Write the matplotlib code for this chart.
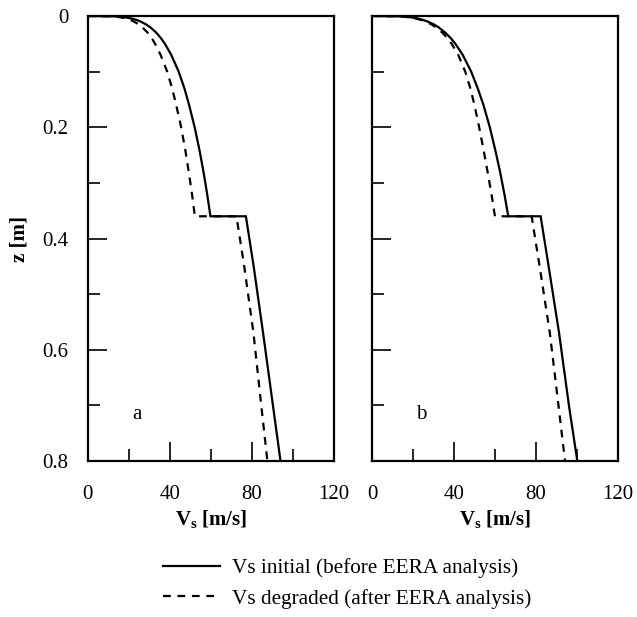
import matplotlib
matplotlib.use('Agg')
import matplotlib.pyplot as plt
from matplotlib.ticker import MultipleLocator
from matplotlib.lines import Line2D

plt.rcParams['font.family'] = 'Liberation Serif'
plt.rcParams['mathtext.fontset'] = 'custom'
plt.rcParams['mathtext.rm'] = 'Liberation Serif'
plt.rcParams['mathtext.bf'] = 'Liberation Serif:bold'
plt.rcParams['font.size'] = 15

# depth (m) - both profiles share the same depths, with a jump at 0.36 m
z = [0, 0.0005, 0.001, 0.002, 0.004, 0.007, 0.01, 0.015, 0.02, 0.03, 0.04,
     0.05, 0.07, 0.1, 0.13, 0.16, 0.2, 0.24, 0.28, 0.32, 0.36,
     0.36, 0.45, 0.57, 0.7, 0.8]

# panel a
vs_init_a = [0, 12.8, 15.0, 17.7, 20.8, 23.7, 25.8, 28.4, 30.4, 33.4, 35.7,
             37.6, 40.7, 44.3, 47.1, 49.4, 52.1, 54.4, 56.4, 58.2, 59.8,
             77.1, 80.9, 85.5, 90.3, 94.0]
vs_degr_a = [0, 11.2, 13.1, 15.5, 18.2, 20.7, 22.5, 24.8, 26.5, 29.2, 31.2,
             32.8, 35.5, 38.7, 41.1, 43.1, 45.5, 47.5, 49.2, 50.8, 52.2,
             72.5, 76.3, 80.8, 84.6, 87.6]

# panel b
vs_init_b = [0, 12.9, 15.4, 18.3, 21.7, 24.9, 27.3, 30.2, 32.4, 35.8, 38.5,
             40.7, 44.3, 48.4, 51.6, 54.4, 57.5, 60.1, 62.5, 64.6, 66.5,
             82.3, 86.2, 91.3, 96.1, 100.2]
vs_degr_b = [0, 12.5, 14.9, 17.7, 20.9, 24.0, 26.2, 29.0, 31.1, 34.4, 36.8,
             38.9, 42.1, 45.5, 48.0, 50.0, 52.3, 54.4, 56.4, 58.3, 60.0,
             77.9, 81.8, 86.8, 91.0, 94.2]

panels = [('a', vs_init_a, vs_degr_a), ('b', vs_init_b, vs_degr_b)]

fig = plt.figure(figsize=(6.37, 6.17), dpi=100)
positions = [[0.138, 0.2528, 0.386, 0.7212], [0.584, 0.2528, 0.386, 0.7212]]

for i, (tag, vs_i, vs_d) in enumerate(panels):
    ax = fig.add_axes(positions[i])
    ax.plot(vs_i, z, color='black', lw=1.6, solid_joinstyle='miter')
    ax.plot(vs_d, z, color='black', lw=1.6, dashes=(3.5, 3))
    ax.set_xlim(0, 120)
    ax.set_ylim(0.8, 0)
    ax.xaxis.set_major_locator(MultipleLocator(40))
    ax.xaxis.set_minor_locator(MultipleLocator(20))
    ax.yaxis.set_major_locator(MultipleLocator(0.2))
    ax.yaxis.set_minor_locator(MultipleLocator(0.1))
    ax.tick_params(which='both', direction='in', top=False, right=False, width=1.2)
    ax.tick_params(which='major', length=13.5, labelsize=15)
    ax.tick_params(which='minor', length=8.5)
    ax.tick_params(axis='x', pad=17)
    ax.tick_params(axis='y', pad=14)
    ax.yaxis.set_major_formatter(plt.FuncFormatter(lambda v, p: '0' if v == 0 else f'{v:.1f}'))
    for s in ax.spines.values():
        s.set_linewidth(1.6)
    if i == 1:
        ax.set_yticklabels([])
    else:
        ax.set_ylabel('z [m]', fontweight='bold', fontsize=15, labelpad=9)
    ax.set_xlabel(r'$\mathbf{V_s}$ [m/s]', fontweight='bold', fontsize=15, labelpad=3)
    ax.text(24, 0.716, tag, ha='center', va='center', fontsize=15)

handles = [Line2D([0], [0], color='black', lw=1.6),
           Line2D([0], [0], color='black', lw=1.6, dashes=(3.5, 3))]
fig.legend(handles, ['Vs initial (before EERA analysis)', 'Vs degraded (after EERA analysis)'],
           loc='center', bbox_to_anchor=(0.545, 0.054), frameon=False, fontsize=15.3,
           handlelength=2.7, handletextpad=0.55, labelspacing=0.5)

plt.savefig('out.png', dpi=100)
plt.close()
